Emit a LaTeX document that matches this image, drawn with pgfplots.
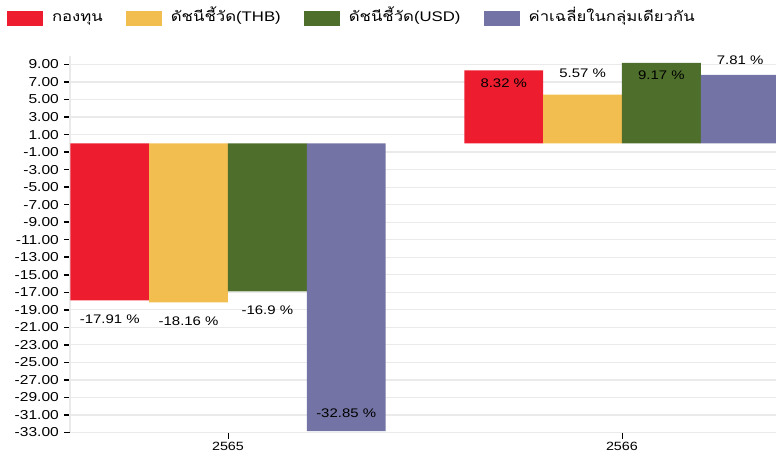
\documentclass[border=0pt]{standalone}
\usepackage{fontspec}
\setmainfont{Liberation Sans}[FakeStretch=1.2]
\newfontfamily\thaifont[Script=Thai,FakeStretch=1.2]{Loma}
\usepackage{pgfplots}
\pgfplotsset{compat=1.18}
\definecolor{cRed}{RGB}{237,28,46}
\definecolor{cYel}{RGB}{242,190,80}
\definecolor{cGrn}{RGB}{78,110,44}
\definecolor{cPur}{RGB}{115,115,165}
\definecolor{cGrid}{RGB}{234,234,234}
\begin{document}
\begin{tikzpicture}
\useasboundingbox (0,0) rectangle (776bp,456bp);
\begin{axis}[
  at={(70bp,23.5bp)}, anchor=south west,
  scale only axis, width=706bp, height=376.8bp,
  xmin=-0.401, xmax=1.391, ymin=-33, ymax=10,
  ybar=0pt, bar width=0.2,
  axis x line*=bottom, axis y line*=left,
  axis line style={draw=cGrid, line width=1.2bp},
  xtick={0,1}, xticklabels={2565,2566},
  ytick={-33,-31,...,9},
  ymajorgrids, major grid style={draw=cGrid, line width=1.2bp},
  tick align=outside, major tick length=6bp,
  ytick style={draw=black, line width=1.5bp},
  xtick style={draw=black, line width=0.8bp},
  yticklabel style={font=\fontsize{13}{14}\selectfont, inner sep=0pt, xshift=-5bp,
    /pgf/number format/.cd, fixed, fixed zerofill, precision=2, assume math mode=true},
  xticklabel style={font=\fontsize{12}{14}\selectfont, inner sep=3bp},
  legend image code/.code={\fill[#1] (0bp,-7.5bp) rectangle (36bp,7.5bp);},
  legend style={at={(axis description cs:-0.0892,1.1186)}, anchor=north west,
    draw=none, fill=none, inner sep=0pt, outer sep=0pt,
    font=\fontsize{14}{16}\selectfont,
    /tikz/every odd column/.append style={column sep=9bp},
    /tikz/every even column/.append style={column sep=23bp},
    nodes={inner sep=0pt, text height=10bp, text depth=4bp}},
  legend columns=4,
  clip=false,
]
\addplot[fill=cRed, draw=none, bar shift=-0.3] coordinates {(0,-17.91) (1,8.32)};
\addlegendentry{{\thaifont กองทุน}}
\addplot[fill=cYel, draw=none, bar shift=-0.1] coordinates {(0,-18.16) (1,5.57)};
\addlegendentry{{\thaifont ดัชนีชี้วัด}(THB)}
\addplot[fill=cGrn, draw=none, bar shift=0.1] coordinates {(0,-16.9) (1,9.17)};
\addlegendentry{{\thaifont ดัชนีชี้วัด}(USD)}
\addplot[fill=cPur, draw=none, bar shift=0.3] coordinates {(0,-32.85) (1,7.81)};
\addlegendentry{{\thaifont ค่าเฉลี่ยในกลุ่มเดียวกัน}}
\begin{scope}[every node/.style={font=\fontsize{12.5}{14}\selectfont, inner sep=0pt}]
\node at (axis cs:-0.3,-20.1) {-17.91 \%};
\node at (axis cs:-0.1,-20.3) {-18.16 \%};
\node at (axis cs:0.1,-19.1) {-16.9 \%};
\node at (axis cs:0.3,-30.8) {-32.85 \%};
\node at (axis cs:0.7,6.85) {8.32 \%};
\node at (axis cs:0.9,8.0) {5.57 \%};
\node at (axis cs:1.1,7.76) {9.17 \%};
\node at (axis cs:1.3,9.5) {7.81 \%};
\end{scope}
\end{axis}
\end{tikzpicture}
\end{document}
